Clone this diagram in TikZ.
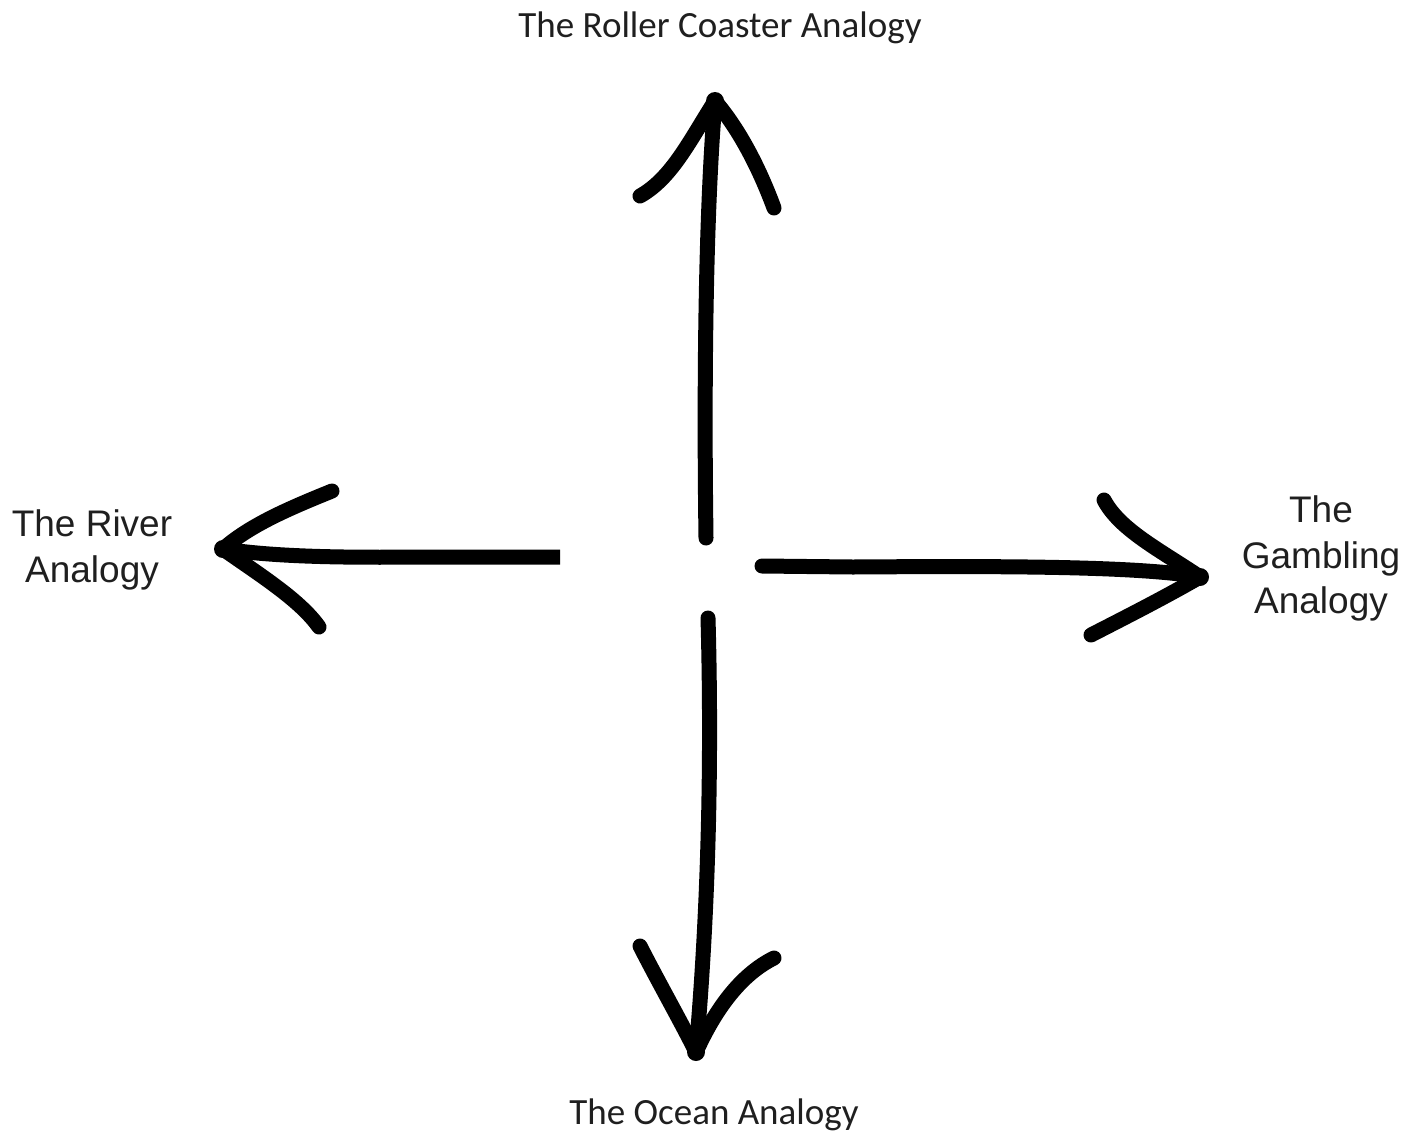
\documentclass[tikz,border=0pt]{standalone}
\usepackage{fontspec}
\setmainfont{Liberation Sans}
\newfontfamily\calfont{Carlito}
\begin{document}
\begin{tikzpicture}[x=1pt,y=-1pt,
  stroke/.style={line width=15pt,line cap=round,line join=round,draw=black},
  flatstroke/.style={line width=15pt,line cap=butt,draw=black},
  callabel/.style={font=\calfont\fontsize{37}{44}\selectfont,anchor=base,inner sep=0pt,text=black!88},
  arlabel/.style={font=\fontsize{37}{44}\selectfont,anchor=base,inner sep=0pt,text=black!88}]
\useasboundingbox (0,0) rectangle (1420,1135);
\fill[white] (0,0) rectangle (1420,1135);

% labels
\node[callabel] (roller) at (720,37) {The Roller Coaster Analogy};
\node[callabel] (ocean) at (714,1124) {The Ocean Analogy};
\node[arlabel] (river1) at (92,536) {The River};
\node[arlabel] (river2) at (92,582) {Analogy};
\node[arlabel] (gamb1) at (1321,522) {The};
\node[arlabel] (gamb2) at (1321,568) {Gambling};
\node[arlabel] (gamb3) at (1321,613) {Analogy};

% up arrow
\coordinate (uS) at (706,538);
\coordinate (uT) at (715,101);
\coordinate (uL) at (640,196);
\coordinate (uR) at (774,208);
\draw[stroke] (uS) .. controls (704,400) and (705,220) .. (uT);
\draw[stroke] (uL) .. controls (672,178) and (690,140) .. (uT);
\draw[stroke] (uT) .. controls (740,130) and (760,170) .. (uR);
\fill (uT) circle (9);

% down arrow
\coordinate (dS) at (708,618);
\coordinate (dT) at (696,1052);
\coordinate (dL) at (640,946);
\coordinate (dR) at (774,958);
\draw[stroke] (dS) .. controls (713,800) and (705,950) .. (dT);
\draw[stroke] (dL) .. controls (660,985) and (680,1020) .. (dT);
\draw[stroke] (dR) .. controls (740,975) and (715,1010) .. (dT);
\fill (dT) circle (9);

% left arrow
\coordinate (lS) at (560,557);
\coordinate (lT) at (223,549);
\coordinate (lU) at (332,491);
\coordinate (lD) at (319,627);
\draw[flatstroke] (lS) -- (420,557) .. controls (330,558) and (270,556) .. (lT);
\draw[stroke] (lU) .. controls (290,508) and (250,525) .. (lT);
\draw[stroke] (lT) .. controls (260,575) and (300,600) .. (lD);
\fill (lT) circle (9);

% right arrow
\coordinate (rS) at (762,566);
\coordinate (rT) at (1200,577);
\coordinate (rU) at (1104,500);
\coordinate (rD) at (1091,635);
\draw[stroke] (rS) -- (853,567) .. controls (1000,566) and (1140,566) .. (rT);
\draw[stroke] (rU) .. controls (1120,530) and (1160,550) .. (rT);
\draw[stroke] (rT) .. controls (1160,600) and (1120,620) .. (rD);
\fill (rT) circle (9);
\end{tikzpicture}
\end{document}
